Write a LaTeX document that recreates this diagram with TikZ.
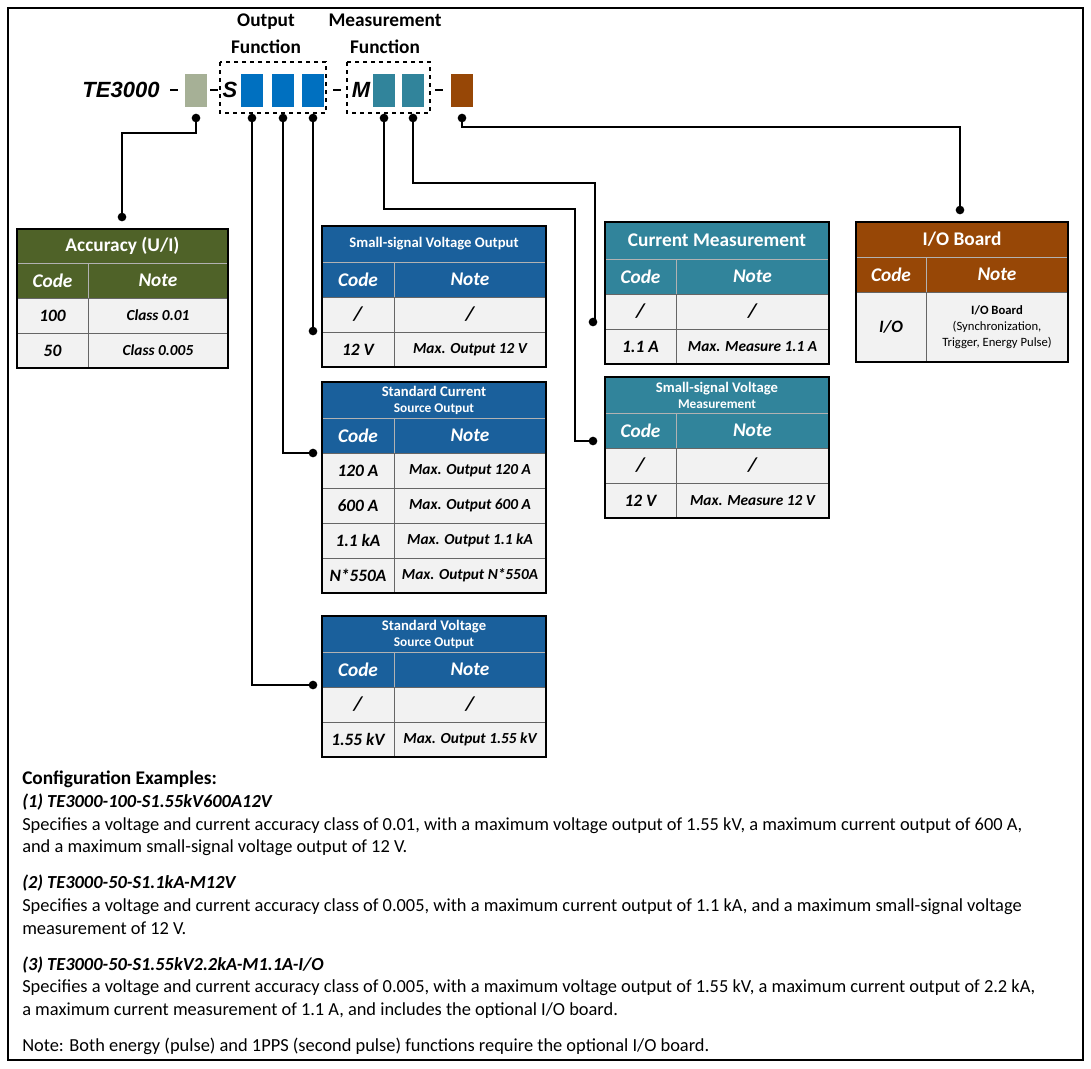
\documentclass[tikz,border=0pt]{standalone}
\usepackage{fontspec}
\setmainfont{Carlito}
\newfontfamily\arialf{Liberation Sans}
\usetikzlibrary{positioning}
\definecolor{accgreen}{HTML}{4F6228}
\definecolor{outblue}{HTML}{1A609C}
\definecolor{boxblue}{HTML}{0070C0}
\definecolor{measteal}{HTML}{31849B}
\definecolor{iobrown}{HTML}{974706}
\definecolor{accgray}{HTML}{A6B096}
\definecolor{rowbg}{HTML}{F2F2F2}
\tikzset{
  ttl/.style={text=white, font=\bfseries, align=center, inner sep=0pt},
  hdr/.style={text=white, font=\fontsize{14.5}{15}\selectfont\bfseries\itshape},
  cell/.style={font=\fontsize{13}{14}\selectfont\bfseries\itshape, inner sep=0pt},
  link/.style={line width=1.2pt},
  dot/.style={circle, fill=black, inner sep=0pt, minimum size=6.5pt},
  slot/.style={inner sep=0pt},
}
\def\rowh{35}
\newcommand{\bigslash}{{\fontsize{15}{16}\selectfont /}}
% table: name, x, y, width, split x, colour, title, title height, rows
\newcommand{\spectable}[9]{%
  \fill[#6] (#2,#3) rectangle ++(#4,#8+35);
  \node[ttl] (#1) at (#2+#4/2,#3+#8/2) {#7};
  \node[hdr] (#1-code) at (#2/2+#5/2,#3+#8+17.5) {Code};
  \node[hdr] (#1-note) at (#5/2+#2/2+#4/2,#3+#8+17.5) {Note};
  \draw[white!70!black] (#2,#3+#8) -- ++(#4,0) (#5,#3+#8) -- ++(0,35);
  \foreach \c/\n [count=\i] in {#9} {
    \pgfmathsetmacro\ry{#3+#8+35+\rowh*(\i-1)}
    \fill[rowbg] (#2,\ry) rectangle ++(#4,\rowh);
    \draw[black!60] (#2,\ry) -- ++(#4,0) (#5,\ry) -- ++(0,\rowh);
    \node[cell] at (#2/2+#5/2,\ry+\rowh/2) {\c};
    \node[cell, font=\fontsize{11.5}{12}\selectfont\bfseries\itshape, align=center] at (#5/2+#2/2+#4/2,\ry+\rowh/2) {\n};
    \xdef\lasty{\ry}
  }
  \draw[line width=1.5pt] (#2,#3) rectangle (#2+#4,\lasty+\rowh);
}
\begin{document}
\begin{tikzpicture}[x=0.75pt,y=-0.75pt]
  \useasboundingbox (0,0) rectangle (1091,1068);
  \draw[line width=2.2pt] (8,8) rectangle (1083,1060);

  % model code
  \node[font=\arialf\fontsize{16.5}{17}\selectfont\bfseries\itshape] (model) at (121,90) {TE3000};
  \draw[line width=1pt] (170,90) -- ++(8,0) (210,90) -- ++(8,0)
    (333,90) -- ++(8,0) (435,90) -- ++(8,0);
  \fill[accgray] (185,74) rectangle (207,107);
  \node[font=\arialf\fontsize{16.5}{17}\selectfont\bfseries\itshape] (s) at (230,90) {S};
  \foreach \x in {241,272,302} \fill[boxblue] (\x,74) rectangle ++(22,33);
  \node[font=\arialf\fontsize{16.5}{17}\selectfont\bfseries\itshape] (m) at (361,90) {M};
  \foreach \x in {373,402} \fill[measteal] (\x,74) rectangle ++(22,33);
  \fill[iobrown] (451,74) rectangle (473,107);
  \draw[dashed, line width=0.8pt] (220,62) rectangle (326,113);
  \draw[dashed, line width=0.8pt] (347,62) rectangle (430,113);
  \node[font=\fontsize{14.5}{20}\selectfont\bfseries, align=center] (outf) at (266,34) {Output\\Function};
  \node[font=\fontsize{14.5}{20}\selectfont\bfseries, align=center] (measf) at (385,34) {Measurement\\Function};

  % tables
  \spectable{acc}{17}{229}{211}{88}{accgreen}{\fontsize{14.5}{15}\selectfont Accuracy (U/I)}{34}{100/Class 0.01, 50/Class 0.005}
  \spectable{ssvo}{322}{226}{224}{394}{outblue}{\fontsize{11}{12}\selectfont Small-signal Voltage Output}{36}{\bigslash/\bigslash, 12 V/Max. Output 12 V}
  \spectable{scso}{322}{382}{224}{394}{outblue}{\fontsize{11}{13}\selectfont Standard Current\\Source Output}{36}{120 A/Max. Output 120 A, 600 A/Max. Output 600 A, 1.1 kA/Max. Output 1.1 kA, N*550A/Max. Output N*550A}
  \spectable{svso}{322}{616}{224}{394}{outblue}{\fontsize{11}{13}\selectfont Standard Voltage\\Source Output}{36}{\bigslash/\bigslash, 1.55 kV/Max. Output 1.55 kV}
  \spectable{cm}{605}{222}{224}{676}{measteal}{\fontsize{14.5}{15}\selectfont Current Measurement}{37}{\bigslash/\bigslash, 1.1 A/Max. Measure 1.1 A}
  \spectable{ssvm}{605}{377}{224}{676}{measteal}{\fontsize{11}{13}\selectfont Small-signal Voltage\\Measurement}{36}{\bigslash/\bigslash, 12 V/Max. Measure 12 V}
  \def\rowh{70}
  \spectable{io}{856}{222}{212}{926}{iobrown}{\fontsize{14.5}{15}\selectfont I/O Board}{35}{{I/O}/{{\bfseries\upshape\fontsize{9.5}{12}\selectfont I/O Board}\\{\mdseries\upshape\fontsize{9.5}{12}\selectfont (Synchronization,}\\{\mdseries\upshape\fontsize{9.5}{12}\selectfont Trigger, Energy Pulse)}}}

  % connectors
  \node[dot] (pa) at (196,118) {}; \node[dot] (ta) at (122,217) {};
  \node[dot] (p1) at (252,118) {}; \node[dot] (t1) at (313,685) {};
  \node[dot] (p2) at (283,118) {}; \node[dot] (t2) at (313,453) {};
  \node[dot] (p3) at (313,118) {}; \node[dot] (t3) at (313,331) {};
  \node[dot] (p4) at (384,118) {}; \node[dot] (t4) at (593,441) {};
  \node[dot] (p5) at (413,118) {}; \node[dot] (t5) at (593,322) {};
  \node[dot] (p6) at (462,118) {}; \node[dot] (t6) at (960,210) {};
  \draw[link] (pa.center) -- (196,133) -| (ta.center);
  \draw[link] (p1.center) |- (t1.center);
  \draw[link] (p2.center) |- (t2.center);
  \draw[link] (p3.center) -- (t3.center);
  \draw[link] (p4.center) -- (384,209) -| (575,441) -- (t4.center);
  \draw[link] (p5.center) -- (413,183) -| (595,322) -- (t5.center);
  \draw[link] (p6.center) -- (462,127) -| (t6.center);

  % examples
  \node[anchor=north west, align=left, inner sep=0pt, font=\fontsize{13.8}{17}\selectfont] (ex) at (22,771) {%
    {\fontsize{14.5}{17}\selectfont\bfseries Configuration Examples:}\\
    {\bfseries\itshape (1) TE3000-100-S1.55kV600A12V}\\
    Specifies a voltage and current accuracy class of 0.01, with a maximum voltage output of 1.55 kV, a maximum current output of 600 A,\\
    and a maximum small-signal voltage output of 12 V.\\[10pt]
    {\bfseries\itshape (2) TE3000-50-S1.1kA-M12V}\\
    Specifies a voltage and current accuracy class of 0.005, with a maximum current output of 1.1 kA, and a maximum small-signal voltage\\
    measurement of 12 V.\\[10pt]
    {\bfseries\itshape (3) TE3000-50-S1.55kV2.2kA-M1.1A-I/O}\\
    Specifies a voltage and current accuracy class of 0.005, with a maximum voltage output of 1.55 kV, a maximum current output of 2.2 kA,\\
    a maximum current measurement of 1.1 A, and includes the optional I/O board.\\[10pt]
    Note: Both energy (pulse) and 1PPS (second pulse) functions require the optional I/O board.};
\end{tikzpicture}
\end{document}
